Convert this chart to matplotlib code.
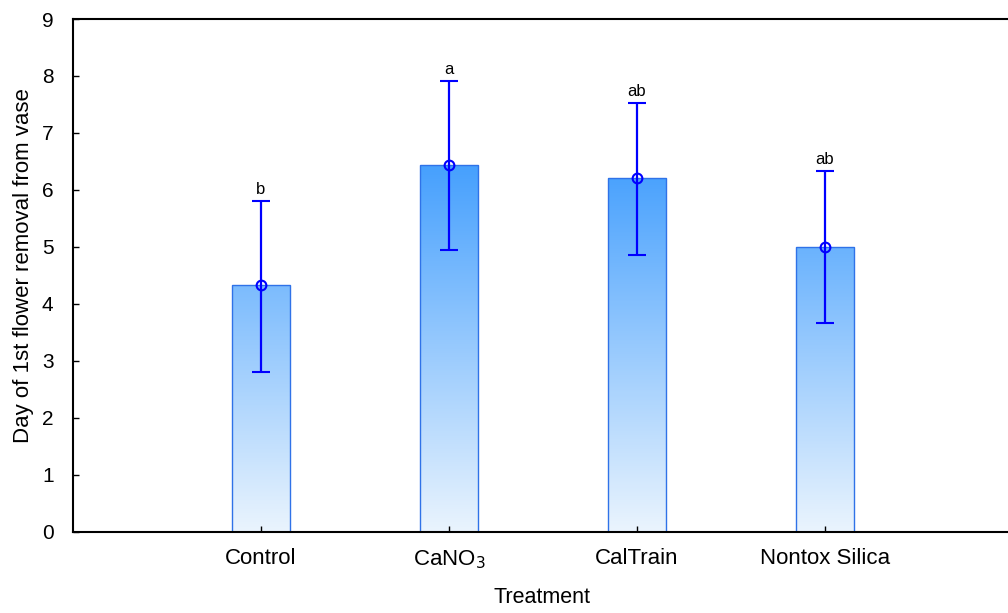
import matplotlib.pyplot as plt
import numpy as np
from matplotlib.colors import LinearSegmentedColormap

plt.rcParams['font.family'] = ['Liberation Sans', 'DejaVu Sans']

treatments = ["Control", "CaNO$_3$", "CalTrain", "Nontox Silica"]
means = [4.33, 6.43, 6.21, 5.00]
err_low = [2.81, 4.94, 4.86, 3.66]
err_high = [5.80, 7.91, 7.53, 6.33]
letters = ["b", "a", "ab", "ab"]

fig = plt.figure(figsize=(10.08, 6.13), dpi=100)
ax = fig.add_axes([0.0724, 0.1329, 0.9276, 0.8361])

cmap = LinearSegmentedColormap.from_list("grad", ["#eaf4fe", "#46a0fd"])
vmax = max(means)
width = 0.31
xs = np.arange(1, len(treatments) + 1)

for x, m in zip(xs, means):
    grad = np.linspace(0, m, 256).reshape(-1, 1)
    ax.imshow(grad, cmap=cmap, vmin=0, vmax=vmax, origin='lower', aspect='auto',
              extent=[x - width / 2, x + width / 2, 0, m], zorder=1)
    ax.bar(x, m, width=width, facecolor='none', edgecolor='#2f72e8', linewidth=1.0, zorder=2)

yerr = [np.array(means) - np.array(err_low), np.array(err_high) - np.array(means)]
ax.errorbar(xs, means, yerr=yerr, fmt='o', color='#0000ff', mfc='none', mec='#0000ff',
            markersize=7, mew=1.5, elinewidth=1.6, capsize=6.5, capthick=1.6, zorder=3)

for x, hi, lab in zip(xs, err_high, letters):
    ax.text(x, hi + 0.07, lab, ha='center', va='bottom', fontsize=12)

ax.set_xlim(0, 4.973)
ax.set_ylim(0, 9)
ax.set_yticks(range(0, 10))
ax.set_xticks(xs)
ax.set_xticklabels(treatments, fontsize=16)
ax.tick_params(axis='y', labelsize=15, direction='in', length=4, width=1, pad=14)
ax.tick_params(axis='x', direction='in', length=4, width=1, pad=12)

ax.spines['right'].set_visible(False)
ax.spines['left'].set_linewidth(1.5)
ax.spines['top'].set_linewidth(1.5)
ax.spines['bottom'].set_linewidth(1.5)

ax.set_xlabel("Treatment", fontsize=15.5)
ax.set_ylabel("Day of 1st flower removal from vase", fontsize=16)
ax.xaxis.set_label_coords(0.502, -0.108)
ax.yaxis.set_label_coords(-0.042, 0.518)

fig.savefig("out.png", dpi=100)
